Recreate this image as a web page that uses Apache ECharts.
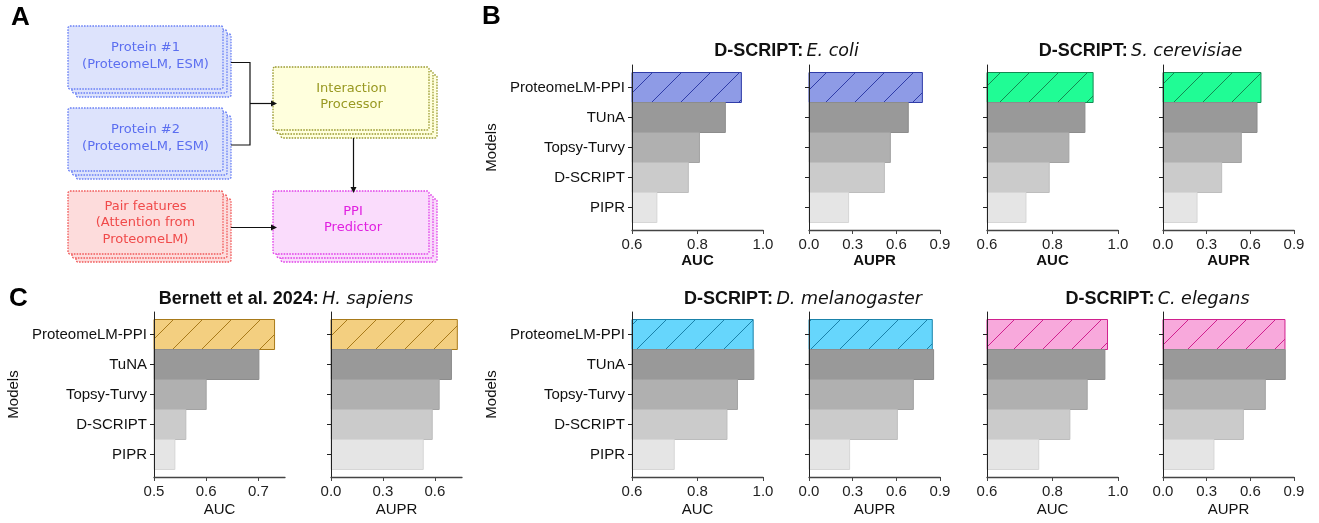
<!DOCTYPE html>
<html>
<head>
<meta charset="utf-8">
<script src="https://cdn.jsdelivr.net/npm/echarts@6/dist/echarts.min.js"></script>
<style>
  html, body { margin: 0; padding: 0; background: #fff; }
  #main { width: 1319px; height: 523px; }
</style>
</head>
<body>
<div id="main"></div>
<script>
// categories
const models = ['ProteomeLM-PPI', 'TUnA', 'Topsy-Turvy', 'D-SCRIPT', 'PIPR'];
const modelsHsap = ['ProteomeLM-PPI', 'TuNA', 'Topsy-Turvy', 'D-SCRIPT', 'PIPR'];

// values
const ecoliAuc = [0.934, 0.885, 0.806, 0.772, 0.676];
const ecoliAupr = [0.779, 0.682, 0.559, 0.518, 0.272];
const scerAuc = [0.924, 0.899, 0.850, 0.790, 0.719];
const scerAupr = [0.673, 0.646, 0.538, 0.403, 0.234];
const hsapAuc = [0.731, 0.701, 0.600, 0.561, 0.540];
const hsapAupr = [0.730, 0.696, 0.625, 0.585, 0.533];
const dmelAuc = [0.970, 0.972, 0.922, 0.890, 0.729];
const dmelAupr = [0.847, 0.856, 0.717, 0.607, 0.279];
const celeAuc = [0.968, 0.960, 0.906, 0.853, 0.758];
const celeAupr = [0.838, 0.840, 0.703, 0.552, 0.350];

// tick labels
const aucTicks = [0.6, 0.8, 1.0];
const auprTicks = [0.0, 0.3, 0.6, 0.9];
const hsapAucTicks = [0.5, 0.6, 0.7];
const hsapAuprTicks = [0.0, 0.3, 0.6];

const grays = ['#999999', '#b0b0b0', '#cbcbcb', '#e5e5e5'];
const grayEdges = ['#8c8c8c', '#a3a3a3', '#bdbdbd', '#d6d6d6'];
const FONT = "'Liberation Sans', Arial, sans-serif";
const DJ = "'DejaVu Sans', sans-serif";

function hatch(base, line) {
    const s = 29;
    const c = document.createElement('canvas');
    c.width = s; c.height = s;
    const g = c.getContext('2d');
    g.fillStyle = base;
    g.fillRect(0, 0, s, s);
    g.strokeStyle = line;
    g.lineWidth = 1;
    g.beginPath();
    g.moveTo(-3, s + 3); g.lineTo(s + 3, -3);
    g.moveTo(-3, 3); g.lineTo(3, -3);
    g.moveTo(s - 3, s + 3); g.lineTo(s + 3, s - 3);
    g.stroke();
    return {image: c, repeat: 'repeat'};
}

const panels = [
    {vals: ecoliAuc, names: models, min: 0.6, max: 1.0, ticks: aucTicks, left: 632, top: 65, fill: '#8e9be6', edge: '#2f3ca8', labels: true, xname: 'AUC', bold: true},
    {vals: ecoliAupr, names: models, min: 0, max: 0.9, ticks: auprTicks, left: 809, top: 65, fill: '#8e9be6', edge: '#2f3ca8', labels: false, xname: 'AUPR', bold: true},
    {vals: scerAuc, names: models, min: 0.6, max: 1.0, ticks: aucTicks, left: 987, top: 65, fill: '#20fc95', edge: '#138a52', labels: false, xname: 'AUC', bold: true},
    {vals: scerAupr, names: models, min: 0, max: 0.9, ticks: auprTicks, left: 1163, top: 65, fill: '#20fc95', edge: '#138a52', labels: false, xname: 'AUPR', bold: true},
    {vals: hsapAuc, names: modelsHsap, min: 0.5, max: 0.751, ticks: hsapAucTicks, left: 154, top: 312, fill: '#f3cf80', edge: '#a87a1a', labels: true, xname: 'AUC', bold: false},
    {vals: hsapAupr, names: modelsHsap, min: 0, max: 0.757, ticks: hsapAuprTicks, left: 331, top: 312, fill: '#f3cf80', edge: '#a87a1a', labels: false, xname: 'AUPR', bold: false},
    {vals: dmelAuc, names: models, min: 0.6, max: 1.0, ticks: aucTicks, left: 632, top: 312, fill: '#66d6fc', edge: '#1a82aa', labels: true, xname: 'AUC', bold: false},
    {vals: dmelAupr, names: models, min: 0, max: 0.9, ticks: auprTicks, left: 809, top: 312, fill: '#66d6fc', edge: '#1a82aa', labels: false, xname: 'AUPR', bold: false},
    {vals: celeAuc, names: models, min: 0.6, max: 1.0, ticks: aucTicks, left: 987, top: 312, fill: '#f8a9dc', edge: '#d0208e', labels: false, xname: 'AUC', bold: false},
    {vals: celeAupr, names: models, min: 0, max: 0.9, ticks: auprTicks, left: 1163, top: 312, fill: '#f8a9dc', edge: '#d0208e', labels: false, xname: 'AUPR', bold: false}
];

function barItem(p) {
    const pattern = hatch(p.fill, p.edge);
    return function (params, api) {
        const idx = api.value(1);
        const a = api.coord([p.min, idx - 0.5]);
        const b = api.coord([api.value(0), idx + 0.5]);
        const first = idx === 0;
        return {
            type: 'rect',
            shape: {x: a[0], y: a[1], width: b[0] - a[0], height: b[1] - a[1]},
            style: {
                fill: first ? pattern : grays[idx - 1],
                stroke: first ? p.edge : grayEdges[idx - 1],
                lineWidth: 1
            }
        };
    };
}

const grid = [], xAxis = [], yAxis = [], series = [];
panels.forEach(function (p, i) {
    grid.push({left: p.left, top: p.top, width: 131, height: 165, containLabel: false});
    xAxis.push({
        type: 'value', gridIndex: i, min: p.min, max: p.max, z: 5,
        name: p.xname, nameLocation: 'middle', nameGap: p.top < 100 ? 23 : 25,
        nameTextStyle: {fontFamily: FONT, fontSize: 15, color: '#111', fontWeight: p.bold ? 'bold' : 'normal'},
        axisLine: {show: true, onZero: false, lineStyle: {color: '#444', width: 1.3}},
        axisTick: {show: true, length: 4, customValues: p.ticks, lineStyle: {color: '#444'}},
        axisLabel: {customValues: p.ticks, margin: 7, fontFamily: FONT, fontSize: 15, color: '#222',
            formatter: function (v) { return v.toFixed(1); }},
        splitLine: {show: false}
    });
    yAxis.push({
        type: 'value', gridIndex: i, min: -0.75, max: 4.75, inverse: true, z: 5,
        name: p.labels ? 'Models' : '', nameLocation: 'middle', nameGap: 133,
        nameTextStyle: {fontFamily: FONT, fontSize: 15, color: '#111'},
        axisLine: {show: true, onZero: false, lineStyle: {color: '#222', width: 1}},
        axisTick: {show: true, length: 4, customValues: [0, 1, 2, 3, 4], lineStyle: {color: '#222'}},
        axisLabel: {show: p.labels, customValues: [0, 1, 2, 3, 4], margin: 7, fontFamily: FONT, fontSize: 15, color: '#111',
            formatter: function (v) { return p.names[v]; }},
        splitLine: {show: false}
    });
    series.push({
        type: 'custom', xAxisIndex: i, yAxisIndex: i, z: 1,
        renderItem: barItem(p),
        encode: {x: 0, y: 1},
        data: p.vals.map(function (v, k) { return [v, k]; }),
        silent: true
    });
});

// panel A diagram
function stackBox(x, y, w, h, fill, stroke) {
    return [8, 4, 0].map(function (o) {
        return {
            type: 'rect', shape: {x: x + o, y: y + o, width: w, height: h, r: 2},
            style: {fill: fill, stroke: stroke, lineWidth: 1.3, lineDash: [1.6, 1.2]}
        };
    });
}
function boxText(cx, cy, text, color) {
    return {
        type: 'text', x: cx, y: cy,
        style: {text: text, fill: color, font: "13px 'DejaVu Sans', sans-serif", align: 'center', verticalAlign: 'middle', lineHeight: 16.5}
    };
}
function arrowHead(x, y, dir) {
    const pts = dir === 'right' ? [[x, y], [x - 6, y - 3], [x - 6, y + 3]] : [[x, y], [x - 3, y - 6], [x + 3, y - 6]];
    return {type: 'polygon', shape: {points: pts}, style: {fill: '#111'}};
}
const blue = ['#dde3fc', '#6a80f5', '#5b6ef0'];
const red = ['#fddcdc', '#f05a5a', '#f04a4a'];
const olive = ['#ffffdd', '#9a9a30', '#999922'];
const magenta = ['#fadcfc', '#e040e8', '#e020e0'];

const line = {stroke: '#111', lineWidth: 1.2, fill: null};
let diagram = [].concat(
    stackBox(68, 26, 155, 63, blue[0], blue[1]),
    stackBox(68, 108, 155, 63, blue[0], blue[1]),
    stackBox(68, 191, 155, 63, red[0], red[1]),
    stackBox(273, 67, 156, 63, olive[0], olive[1]),
    stackBox(273, 191, 156, 63, magenta[0], magenta[1]),
    [
        boxText(145.5, 56, 'Protein #1\n(ProteomeLM, ESM)', blue[2]),
        boxText(145.5, 138, 'Protein #2\n(ProteomeLM, ESM)', blue[2]),
        boxText(145.5, 223, 'Pair features\n(Attention from\nProteomeLM)', red[2]),
        boxText(351.5, 96.5, 'Interaction\nProcessor', olive[2]),
        boxText(353, 219.5, 'PPI\nPredictor', magenta[2]),
        {type: 'polyline', shape: {points: [[231, 62.5], [250, 62.5], [250, 145], [231, 145]]}, style: line},
        {type: 'line', shape: {x1: 250, y1: 103.5, x2: 272, y2: 103.5}, style: line},
        arrowHead(277, 103.5, 'right'),
        {type: 'line', shape: {x1: 353.5, y1: 138, x2: 353.5, y2: 188}, style: line},
        arrowHead(353.5, 193, 'down'),
        {type: 'line', shape: {x1: 231, y1: 227.5, x2: 272, y2: 227.5}, style: line},
        arrowHead(277, 227.5, 'right')
    ]
);

function title(cx, cy, bold, ital) {
    return {
        type: 'text', x: cx, y: cy,
        style: {
            text: '{b|' + bold + '} {i|' + ital + '}',
            align: 'center', verticalAlign: 'middle',
            rich: {
                b: {fontFamily: FONT, fontWeight: 'bold', fontSize: 18, fill: '#111'},
                i: {fontFamily: DJ, fontStyle: 'italic', fontSize: 17.5, fill: '#111'}
            }
        }
    };
}
function letter(x, y, t) {
    return {type: 'text', x: x, y: y, style: {text: t, font: "bold 26px 'Liberation Sans', Arial, sans-serif", fill: '#000', verticalAlign: 'top'}};
}

const graphic = diagram.concat([
    title(786.5, 51.5, 'D-SCRIPT:', 'E. coli'),
    title(1140.5, 51.5, 'D-SCRIPT:', 'S. cerevisiae'),
    title(286, 299.5, 'Bernett et al. 2024:', 'H. sapiens'),
    title(803, 299.5, 'D-SCRIPT:', 'D. melanogaster'),
    title(1157.5, 299.5, 'D-SCRIPT:', 'C. elegans'),
    letter(11, 5, 'A'),
    letter(482, 4, 'B'),
    letter(9, 286, 'C')
]);

const myChart = echarts.init(document.getElementById('main'), null, {renderer: 'canvas'});
myChart.setOption({
    animation: false,
    backgroundColor: '#fff',
    grid: grid,
    xAxis: xAxis,
    yAxis: yAxis,
    series: series,
    graphic: graphic
});
</script>
</body>
</html>
